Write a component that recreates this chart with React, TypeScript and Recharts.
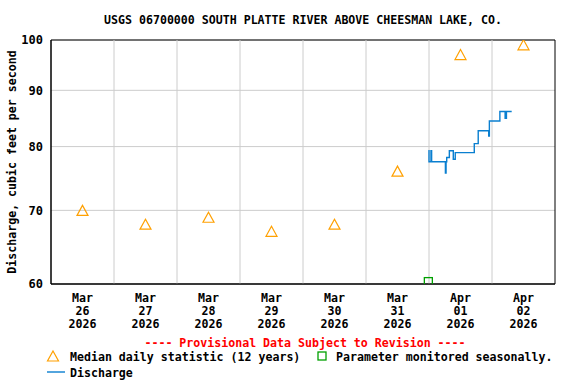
import React from 'react';
import {
  ComposedChart,
  Line,
  Scatter,
  XAxis,
  YAxis,
  CartesianGrid,
  ReferenceLine,
  ReferenceArea,
} from 'recharts';

const titleText = 'USGS 06700000 SOUTH PLATTE RIVER ABOVE CHEESMAN LAKE, CO.';
const yAxisLabel = 'Discharge, cubic feet per second';
const provisionalText = '---- Provisional Data Subject to Revision ----';
const legendMedian = 'Median daily statistic (12 years)';
const legendSeasonal = 'Parameter monitored seasonally.';
const legendDischarge = 'Discharge';

// hours since Mar 26 2026 00:00
const dayCenterHours = [12, 36, 60, 84, 108, 132, 156, 180];
const tickMonths = ['Mar', 'Mar', 'Mar', 'Mar', 'Mar', 'Mar', 'Apr', 'Apr'];
const tickDays = ['26', '27', '28', '29', '30', '31', '01', '02'];
const tickYears = ['2026', '2026', '2026', '2026', '2026', '2026', '2026', '2026'];
const midnightHours = [24, 48, 72, 96, 120, 144, 168];
const yTicks = [60, 70, 80, 90, 100];

const medianValues = [70, 68, 69, 67, 68, 76, 97, 99];

const dischargeHours = [
  143.75, 144.0, 144.75, 145.0, 150.25, 150.5, 150.75, 151.75, 153.25, 154.0,
  161.25, 162.75, 166.75, 167.0, 171.0, 173.0, 173.5, 175.5,
];
const dischargeValues = [
  79.3, 77.5, 79.3, 77.5, 75.7, 77.5, 78.2, 79.3, 77.9, 79.0,
  80.5, 82.7, 81.8, 84.4, 86.1, 84.9, 86.1, 86.1,
];

const seasonalHours = [143.75];
const seasonalValues = [60.3];

const medianData = dayCenterHours.map((t, i) => ({ t, v: medianValues[i] }));
const dischargeData = dischargeHours.map((t, i) => ({ t, v: dischargeValues[i] }));
const seasonalData = seasonalHours.map((t, i) => ({ t, v: seasonalValues[i] }));

const FONT = '"DejaVu Sans Mono", monospace';
const FS = 11.6;
const ORANGE = '#FFA000';
const BLUE = '#0A7FD0';
const GREEN = '#00A000';

const XTick = (props: any) => {
  const { x, y, payload } = props;
  const i = dayCenterHours.indexOf(payload.value);
  if (i < 0) return null;
  return (
    <g>
      <text x={x} y={y + 18} textAnchor="middle" fontFamily={FONT} fontWeight="bold" fontSize={FS} fill="#000">
        {tickMonths[i]}
      </text>
      <text x={x} y={y + 31} textAnchor="middle" fontFamily={FONT} fontWeight="bold" fontSize={FS} fill="#000">
        {tickDays[i]}
      </text>
      <text x={x} y={y + 44} textAnchor="middle" fontFamily={FONT} fontWeight="bold" fontSize={FS} fill="#000">
        {tickYears[i]}
      </text>
    </g>
  );
};

const Triangle = (props: any) => {
  const { cx, cy } = props;
  if (cx == null || cy == null) return null;
  return (
    <path
      d={`M${cx},${cy - 5} L${cx + 5.5},${cy + 5} L${cx - 5.5},${cy + 5} Z`}
      fill="none"
      stroke={ORANGE}
      strokeWidth={1.2}
    />
  );
};

const Square = (props: any) => {
  const { cx, cy } = props;
  if (cx == null || cy == null) return null;
  return <rect x={cx - 4} y={cy - 4} width={8} height={8} fill="none" stroke={GREEN} strokeWidth={1.3} />;
};

export default function App() {
  return (
    <div style={{ position: 'absolute', left: 0, top: 0, width: 576, height: 384, background: '#fff' }}>
      <ComposedChart
        width={576}
        height={384}
        margin={{ top: 40, right: 21, bottom: 55, left: 0 }}
      >
        <CartesianGrid vertical={false} stroke="#cccccc" />
        {midnightHours.map((h) => (
          <ReferenceLine key={h} x={h} stroke="#cccccc" strokeWidth={1} ifOverflow="hidden" />
        ))}
        <XAxis
          dataKey="t"
          type="number"
          domain={[0, 192]}
          ticks={dayCenterHours}
          interval={0}
          tickLine={false}
          tickSize={0}
          tickMargin={0}
          axisLine={{ stroke: '#000' }}
          height={45}
          tick={<XTick />}
          allowDataOverflow
        />
        <YAxis
          dataKey="v"
          type="number"
          scale="log"
          domain={[60, 100]}
          ticks={yTicks}
          interval={0}
          allowDataOverflow
          tickLine={false}
          tickSize={0}
          tickMargin={8}
          width={51}
          axisLine={{ stroke: '#000' }}
          tick={{ fill: '#000', fontSize: 12, fontFamily: FONT, fontWeight: 'bold' }}
        />
        <ReferenceArea x1={0} x2={192} y1={60} y2={100} fill="none" stroke="#000" strokeWidth={1} ifOverflow="visible" />
        <Line
          data={dischargeData}
          dataKey="v"
          type="stepAfter"
          dot={false}
          stroke={BLUE}
          strokeWidth={1.4}
          isAnimationActive={false}
        />
        <Scatter data={medianData} dataKey="v" shape={<Triangle />} isAnimationActive={false} />
        <Scatter data={seasonalData} dataKey="v" shape={<Square />} isAnimationActive={false} />
      </ComposedChart>
      <svg
        width={576}
        height={384}
        style={{ position: 'absolute', left: 0, top: 0, pointerEvents: 'none' }}
      >
        <text x={303} y={24} textAnchor="middle" fontFamily={FONT} fontWeight="bold" fontSize={FS} fill="#000">
          {titleText}
        </text>
        <text
          x={16}
          y={162}
          transform="rotate(-90 16 162)"
          textAnchor="middle"
          fontFamily={FONT}
          fontWeight="bold"
          fontSize={FS}
          fill="#000"
        >
          {yAxisLabel}
        </text>
        <text x={305} y={347} textAnchor="middle" fontFamily={FONT} fontWeight="bold" fontSize={FS} fill="#FF0000">
          {provisionalText}
        </text>
        <path d="M53,351 L58.5,361 L47.5,361 Z" fill="none" stroke={ORANGE} strokeWidth={1.2} />
        <text x={70} y={361} fontFamily={FONT} fontWeight="bold" fontSize={FS} fill="#000">
          {legendMedian}
        </text>
        <rect x={318} y={352} width={8} height={8} fill="none" stroke={GREEN} strokeWidth={1.3} />
        <text x={336} y={361} fontFamily={FONT} fontWeight="bold" fontSize={FS} fill="#000">
          {legendSeasonal}
        </text>
        <line x1={47} y1={372} x2={65} y2={372} stroke={BLUE} strokeWidth={1.4} />
        <text x={70} y={377} fontFamily={FONT} fontWeight="bold" fontSize={FS} fill="#000">
          {legendDischarge}
        </text>
      </svg>
    </div>
  );
}
